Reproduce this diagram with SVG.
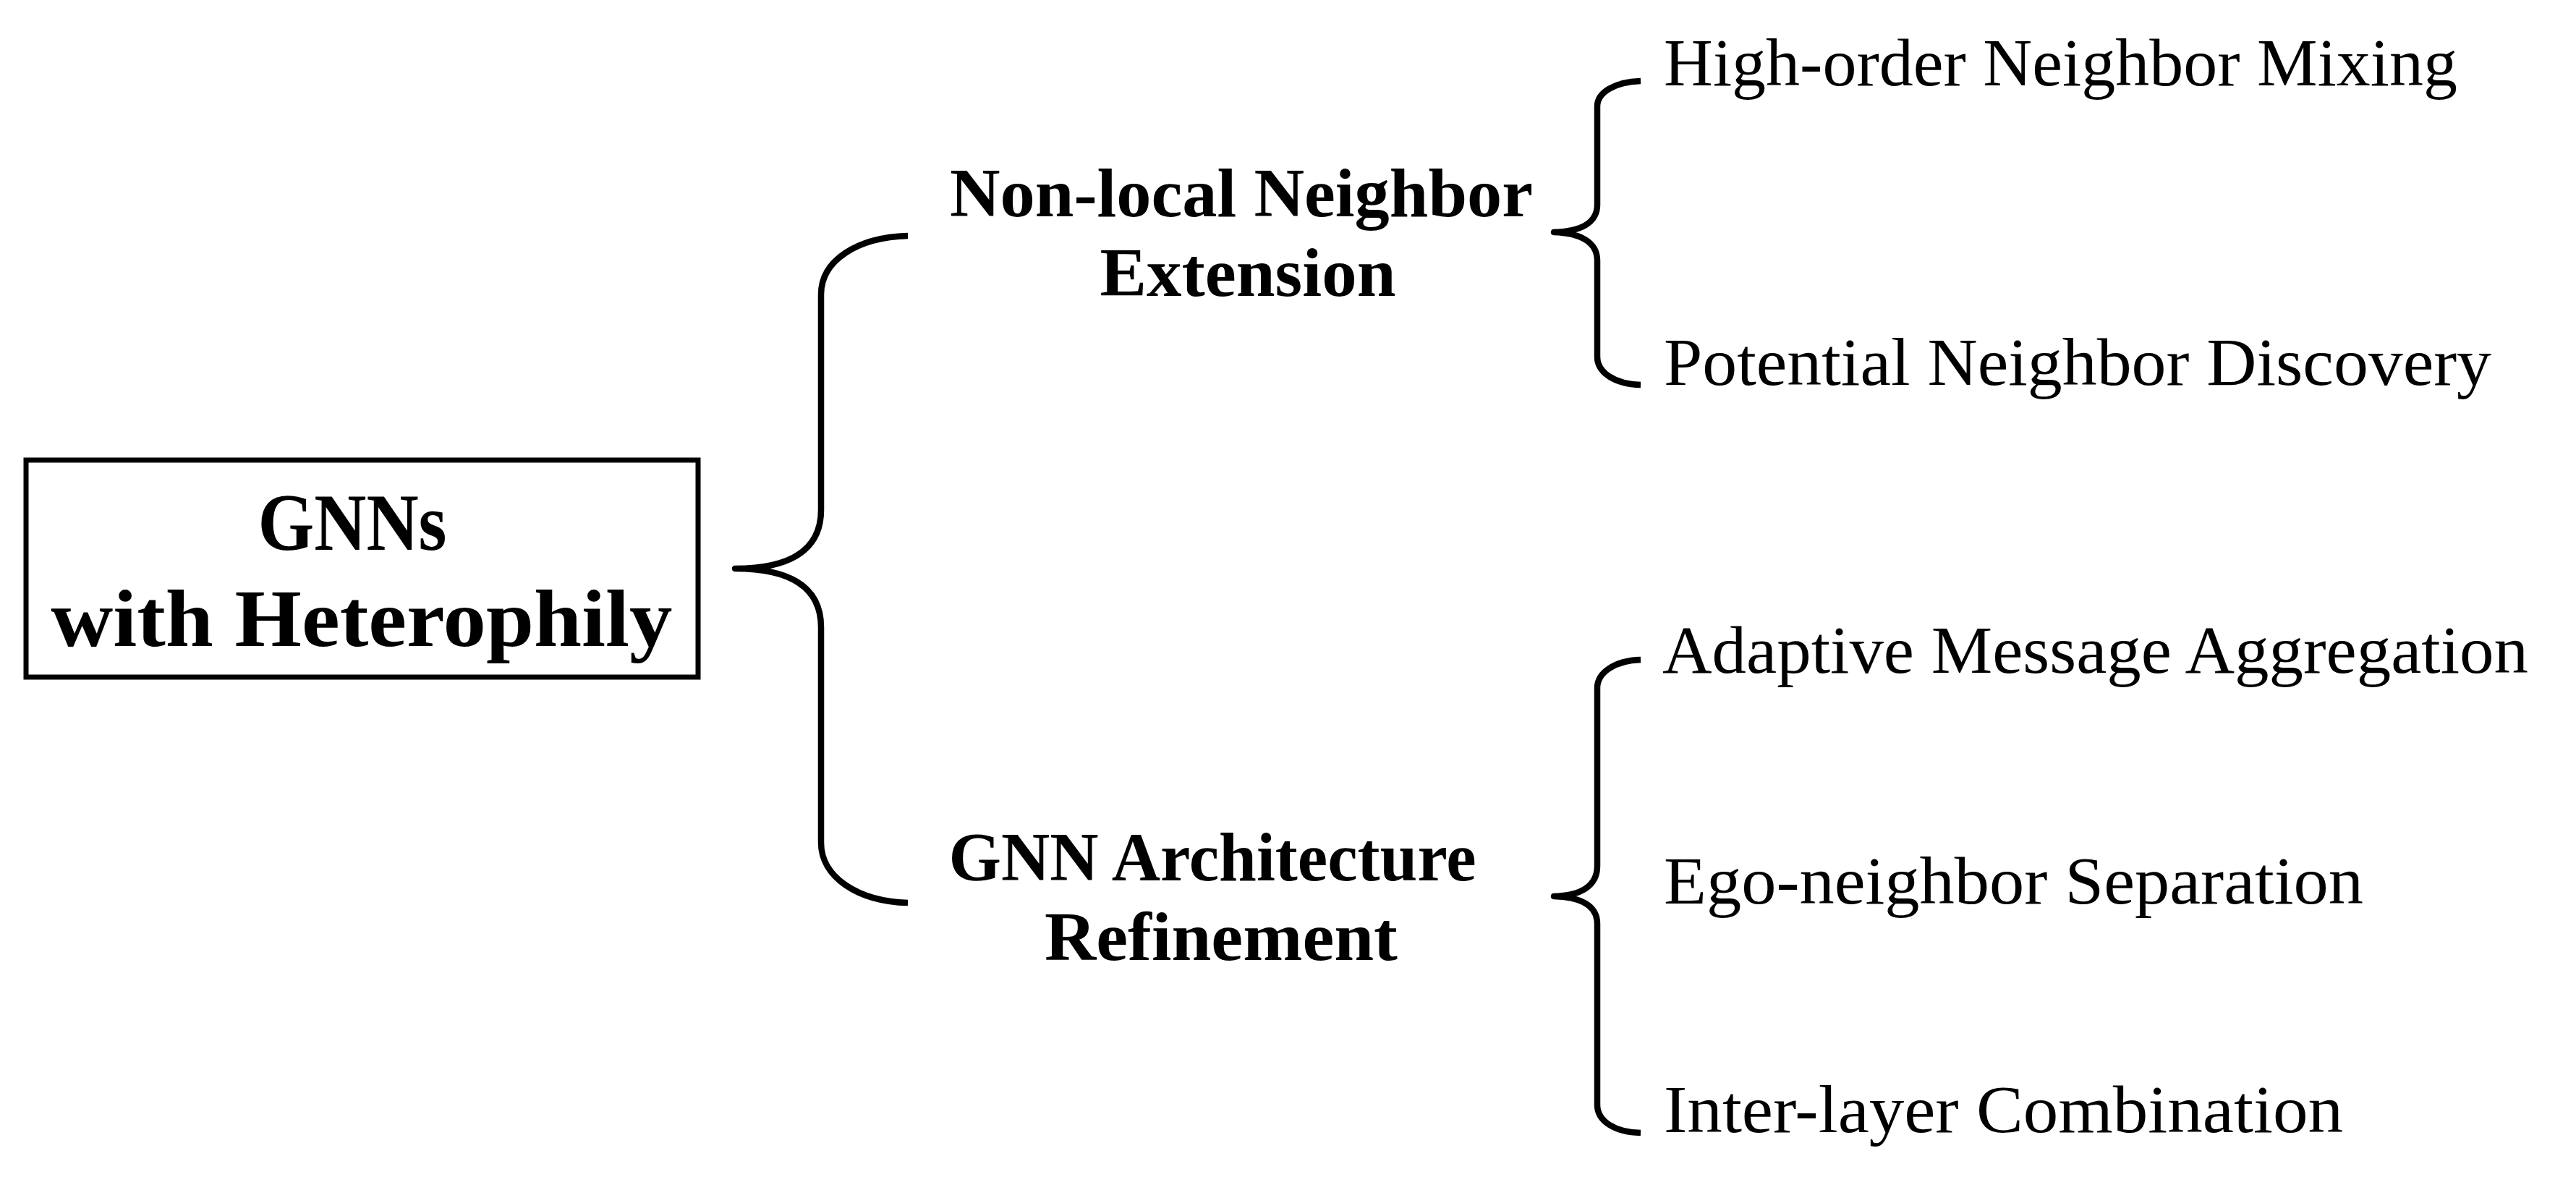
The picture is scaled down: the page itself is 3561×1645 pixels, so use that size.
<svg xmlns="http://www.w3.org/2000/svg" width="3561" height="1645" viewBox="0 0 3561 1645">
<style>
  .bg { fill: #ffffff; }
  .box { fill: #ffffff; stroke: #000000; stroke-width: 7; }
  .brace { fill: none; stroke: #000000; stroke-width: 8.5; stroke-linecap: butt; stroke-linejoin: round; }
  .tb { font-family: "Liberation Serif", "Times New Roman", serif; font-weight: bold; fill: #000000; text-anchor: middle; }
  .tr { font-family: "Liberation Serif", "Times New Roman", serif; font-weight: normal; fill: #000000; font-size: 94px; }
</style>
<rect class="bg" x="0" y="0" width="3561" height="1645"/>

<g id="root">
  <rect class="box" x="36" y="636" width="929" height="300"/>
  <text class="tb" x="487" y="760" font-size="112" textLength="261" lengthAdjust="spacingAndGlyphs">GNNs</text>
  <text class="tb" x="500" y="893" font-size="112" textLength="859" lengthAdjust="spacingAndGlyphs">with Heterophily</text>
</g>

<g id="connectors">
  <path class="brace" d="M1255,326 C1185,328 1135,360 1135,407 L1135,705 C1135,765 1085,786 1016,786 C1085,786 1135,807 1135,867 L1135,1165 C1135,1212 1185,1246 1255,1248"/>
  <path class="brace" d="M2268,112 C2232,113 2208,128 2208,147 L2208,283 C2208,308 2185,320 2148,321 C2185,322 2208,335 2208,360 L2208,493 C2208,515 2232,531 2268,532"/>
  <path class="brace" d="M2268,912 C2232,913 2208,930 2208,951 L2208,1197 C2208,1225 2185,1238 2148,1239 C2185,1240 2208,1252 2208,1277 L2208,1527 C2208,1550 2232,1565 2268,1566"/>
</g>

<g id="nonlocal">
  <text class="tb" x="1716" y="299" font-size="96" textLength="806" lengthAdjust="spacingAndGlyphs">Non-local Neighbor</text>
  <text class="tb" x="1725" y="409" font-size="96" textLength="409" lengthAdjust="spacingAndGlyphs">Extension</text>
</g>

<g id="architecture">
  <text class="tb" x="1676" y="1217" font-size="96" textLength="729" lengthAdjust="spacingAndGlyphs">GNN Architecture</text>
  <text class="tb" x="1688" y="1327" font-size="96" textLength="488" lengthAdjust="spacingAndGlyphs">Refinement</text>
</g>

<g id="high-order">
  <text class="tr" x="2300" y="118" textLength="1097" lengthAdjust="spacingAndGlyphs">High-order Neighbor Mixing</text>
</g>
<g id="potential">
  <text class="tr" x="2300" y="532" textLength="1144" lengthAdjust="spacingAndGlyphs">Potential Neighbor Discovery</text>
</g>
<g id="adaptive">
  <text class="tr" x="2298" y="930" textLength="1197" lengthAdjust="spacingAndGlyphs">Adaptive Message Aggregation</text>
</g>
<g id="ego">
  <text class="tr" x="2300" y="1249" textLength="967" lengthAdjust="spacingAndGlyphs">Ego-neighbor Separation</text>
</g>
<g id="interlayer">
  <text class="tr" x="2300" y="1565" textLength="939" lengthAdjust="spacingAndGlyphs">Inter-layer Combination</text>
</g>
</svg>
